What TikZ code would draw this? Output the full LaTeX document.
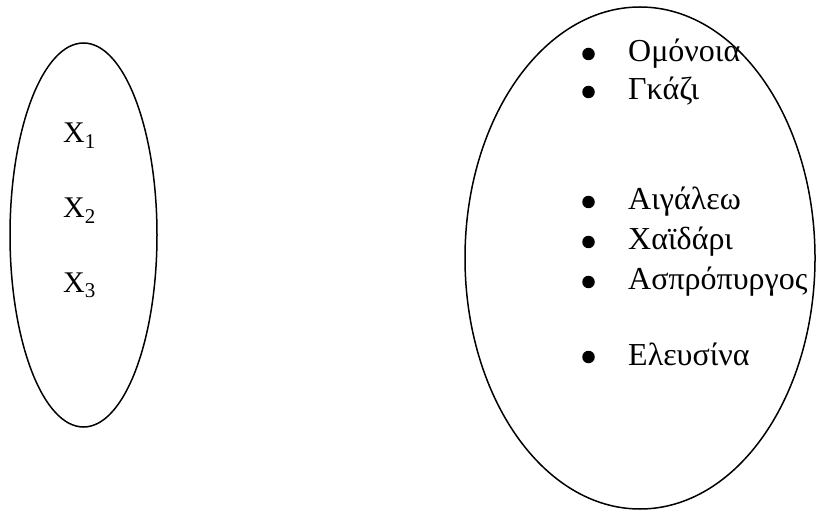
\documentclass[tikz,border=0pt]{standalone}
\usepackage{fontspec}
\setmainfont{Liberation Serif}
\usetikzlibrary{shapes.geometric}
\tikzset{
  setshape/.style={ellipse, draw, line width=1.5pt, inner sep=0pt},
  xitem/.style={anchor=base west, inner sep=0pt, font=\fontsize{30}{36}\selectfont},
  item/.style={anchor=base west, inner sep=0pt, font=\fontsize{32}{38}\selectfont},
  bul/.style={circle, fill, inner sep=0pt, minimum size=12.5pt},
}
\begin{document}
\begin{tikzpicture}[x=1pt,y=-1pt]
\useasboundingbox (0,0) rectangle (818,510);
\node[setshape, minimum width=147pt, minimum height=384pt] (setA) at (83.5,235) {};
\node[setshape, minimum width=350pt, minimum height=502pt] (setB) at (640,258) {};
% left set
\node[xitem] (x1) at (63,143) {X\textsubscript{1}};
\node[xitem] (x2) at (63,218) {X\textsubscript{2}};
\node[xitem] (x3) at (63,292) {X\textsubscript{3}};
% right set
\node[bul] (b1) at (588.5,54) {};
\node[item] (t1) at (628,62) {Ομόνοια};
\node[bul] (b2) at (588.5,92) {};
\node[item] (t2) at (628,100) {Γκάζι};
\node[bul] (b3) at (588.5,202) {};
\node[item] (t3) at (628,210) {Αιγάλεω};
\node[bul] (b4) at (588.5,242) {};
\node[item] (t4) at (628,250) {Χαϊδάρι};
\node[bul] (b5) at (588.5,282) {};
\node[item] (t5) at (628,290) {Ασπρόπυργος};
\node[bul] (b6) at (588.5,357) {};
\node[item] (t6) at (628,365) {Ελευσίνα};
\end{tikzpicture}
\end{document}
